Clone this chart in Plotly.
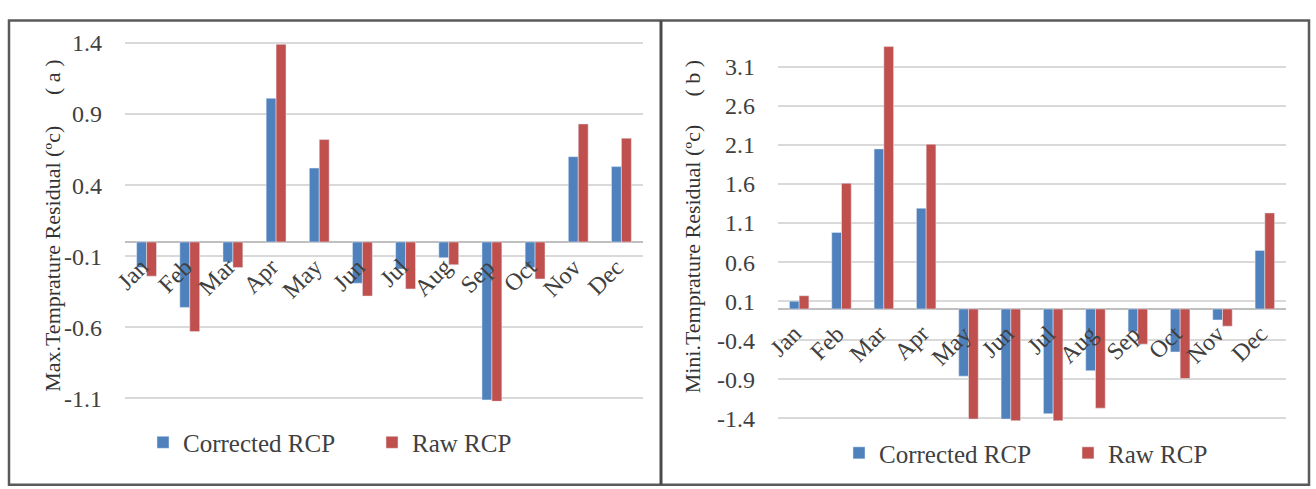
import plotly.graph_objects as go

W, H = 1316, 489

months = ["Jan", "Feb", "Mar", "Apr", "May", "Jun", "Jul", "Aug", "Sep", "Oct", "Nov", "Dec"]
max_corrected = [-0.18, -0.46, -0.14, 1.01, 0.52, -0.29, -0.19, -0.11, -1.11, -0.18, 0.60, 0.53]
max_raw = [-0.24, -0.63, -0.18, 1.39, 0.72, -0.38, -0.33, -0.16, -1.12, -0.26, 0.83, 0.73]
min_corrected = [0.10, 0.98, 2.05, 1.29, -0.86, -1.41, -1.34, -0.79, -0.29, -0.55, -0.14, 0.75]
min_raw = [0.17, 1.61, 3.36, 2.11, -1.41, -1.43, -1.43, -1.27, -0.45, -0.89, -0.22, 1.23]
max_ticks = [-1.1, -0.6, -0.1, 0.4, 0.9, 1.4]
min_ticks = [-1.4, -0.9, -0.4, 0.1, 0.6, 1.1, 1.6, 2.1, 2.6, 3.1]
series_names = ["Corrected RCP", "Raw RCP"]

BLUE = "#4F81BD"
RED = "#C0504D"
FONT = "Liberation Serif, 'Times New Roman', serif"
TXT = "#404040"


def px_x(p):
    return p / W


def px_y(p):
    return 1 - p / H


fig = go.Figure()

fig.add_trace(go.Bar(x=months, y=max_corrected, name=series_names[0], marker_color=BLUE,
                     xaxis="x", yaxis="y", legend="legend"))
fig.add_trace(go.Bar(x=months, y=max_raw, name=series_names[1], marker_color=RED,
                     xaxis="x", yaxis="y", legend="legend"))
fig.add_trace(go.Bar(x=months, y=min_corrected, name=series_names[0], marker_color=BLUE,
                     xaxis="x2", yaxis="y2", legend="legend2"))
fig.add_trace(go.Bar(x=months, y=min_raw, name=series_names[1], marker_color=RED,
                     xaxis="x2", yaxis="y2", legend="legend2"))

xa = dict(showticklabels=False, showgrid=False, zeroline=False, showline=False,
          ticks="", range=[-0.5, 11.5], fixedrange=True)
ya = dict(showgrid=True, gridcolor="#d9d9d9", gridwidth=1.5, zeroline=True,
          zerolinecolor="#bfbfbf", zerolinewidth=2, showline=False, ticks="",
          tickfont=dict(family=FONT, size=24, color=TXT), ticklabelstandoff=22)

annotations = []
for m in months:
    for xr, yr in (("x", "y"), ("x2", "y2")):
        annotations.append(dict(x=m, y=0, xref=xr, yref=yr, text=m, showarrow=False,
                                textangle=-45, xanchor="right", yanchor="top",
                                xshift=10, yshift=-9,
                                font=dict(family=FONT, size=24, color=TXT)))

# axis titles and panel labels
annotations += [
    dict(x=px_x(38), y=px_y(260), xref="paper", yref="paper", text="Max.Temprature Residual (ºc)",
         textangle=-90, showarrow=False, font=dict(family=FONT, size=22, color="#333333")),
    dict(x=px_x(38), y=px_y(50), xref="paper", yref="paper", text="( a )",
         textangle=-90, showarrow=False, font=dict(family=FONT, size=22, color="#333333")),
    dict(x=px_x(692), y=px_y(260), xref="paper", yref="paper", text="Mini.Temprature Residual (ºc)",
         textangle=-90, showarrow=False, font=dict(family=FONT, size=22, color="#333333")),
    dict(x=px_x(692), y=px_y(50), xref="paper", yref="paper", text="( b )",
         textangle=-90, showarrow=False, font=dict(family=FONT, size=22, color="#333333")),
]

shapes = [
    dict(type="rect", xref="paper", yref="paper", x0=px_x(9), x1=px_x(1309),
         y0=px_y(495), y1=px_y(11), line=dict(color="#5a5a5a", width=2.5)),
    dict(type="line", xref="paper", yref="paper", x0=px_x(661), x1=px_x(661),
         y0=px_y(495), y1=px_y(11), line=dict(color="#4a4a4a", width=3)),
]

leg_common = dict(orientation="h", font=dict(family=FONT, size=25, color=TXT),
                  bgcolor="rgba(0,0,0,0)", entrywidth=184, entrywidthmode="pixels",
                  xanchor="left", yanchor="middle", itemclick=False, itemdoubleclick=False)

fig.update_layout(
    width=W, height=H,
    margin=dict(l=0, r=0, t=0, b=0),
    font=dict(family=FONT, color=TXT),
    paper_bgcolor="white", plot_bgcolor="white",
    barmode="group", bargap=0.54, bargroupgap=0.0,
    xaxis=dict(domain=[px_x(125), px_x(643)], anchor="y", **xa),
    yaxis=dict(domain=[px_y(408), px_y(31.3)], anchor="x", range=[-1.12, 1.42],
               tickvals=max_ticks, ticktext=[f"{v:.1f}" for v in max_ticks], **ya),
    xaxis2=dict(domain=[px_x(778), px_x(1286)], anchor="y2", **xa),
    yaxis2=dict(domain=[px_y(429.8), px_y(34.9)], anchor="x2", range=[-1.45, 3.4],
                tickvals=min_ticks, ticktext=[f"{v:.1f}" for v in min_ticks], **ya),
    legend=dict(x=px_x(143), y=px_y(451), **leg_common),
    legend2=dict(x=px_x(839), y=px_y(462), **leg_common),
    annotations=annotations,
    shapes=shapes,
    showlegend=True,
)

fig.write_html("out.html")
